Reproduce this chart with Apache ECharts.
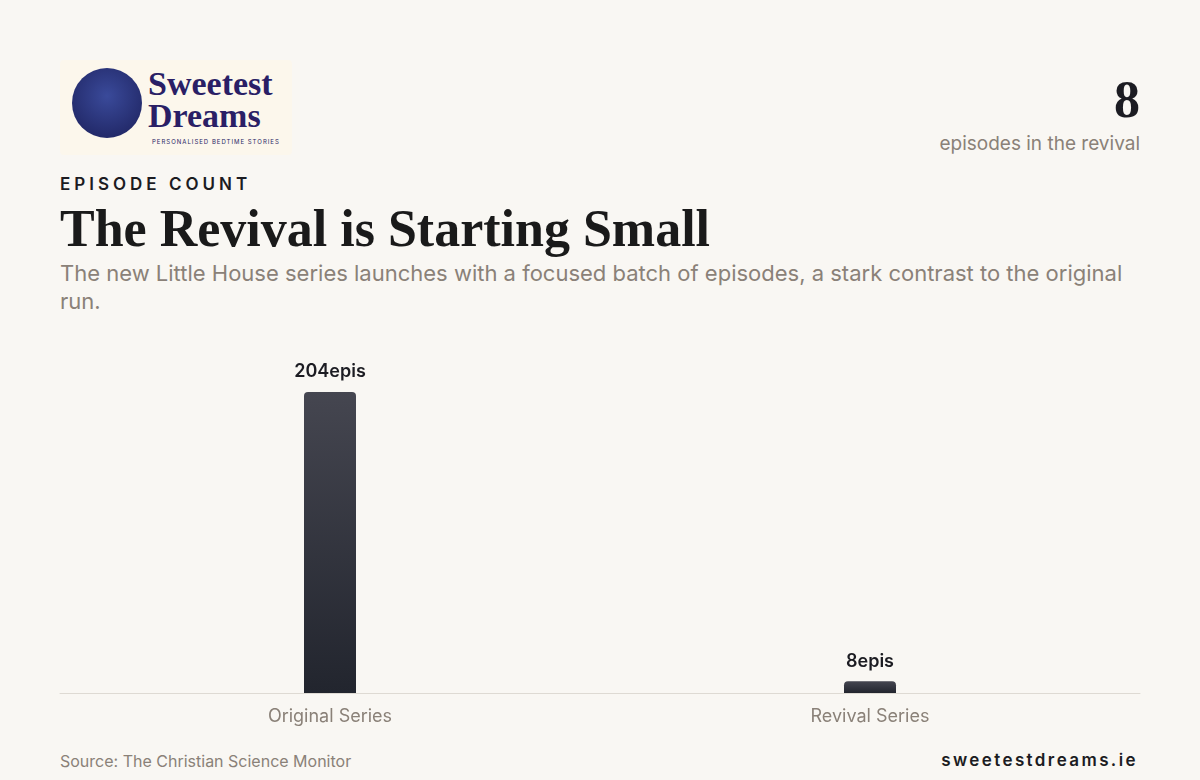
<!DOCTYPE html>
<html><head><meta charset="utf-8">
<script src="https://cdn.jsdelivr.net/npm/echarts@6/dist/echarts.min.js"></script>
<style>
body{margin:0;width:1200px;height:780px;background:#f9f7f3;font-family:Inter,"Noto Sans",sans-serif;position:relative;overflow:hidden}
.abs{position:absolute}
#logo{left:60px;top:60px;width:232px;height:95px;background:#fcf7ec;border-radius:4px}
#logo .c{position:absolute;left:12px;top:8px;width:70px;height:70px;border-radius:50%;background:radial-gradient(circle at 50% 40%,#3a4a9a,#1b1f5a)}
#logo .t{position:absolute;left:88px;top:8px;font-family:"Liberation Serif",serif;font-weight:bold;color:#2a1f66;font-size:34px;line-height:32px}
#logo .s{position:absolute;left:92px;top:78px;font-size:6px;letter-spacing:1px;color:#2a1f66}
#chart{left:0;top:0;width:1200px;height:780px}
</style></head><body>
<div id="logo" class="abs"><div class="c"></div><div class="t">Sweetest<br>Dreams</div><div class="s">PERSONALISED BEDTIME STORIES</div></div>
<div class="abs" style="right:60px;top:70px;font-family:'Liberation Serif',serif;font-weight:bold;font-size:52px;color:#1c1c22">8</div>
<div class="abs" style="right:60px;top:132px;font-size:19px;color:#8a8178">episodes in the revival</div>
<div class="abs" style="left:60px;top:174px;font-size:17px;letter-spacing:4px;font-weight:600;color:#1c1c22">EPISODE COUNT</div>
<div class="abs" style="left:60px;top:199px;font-family:'Liberation Serif',serif;font-weight:bold;font-size:52px;color:#1a1a1a">The Revival is Starting Small</div>
<div class="abs" style="left:60px;top:259px;width:1080px;font-size:22px;line-height:28px;color:#8a8178">The new Little House series launches with a focused batch of episodes, a stark contrast to the original run.</div>
<div class="abs" style="left:60px;top:751px;font-size:16px;color:#8a8178">Source: The Christian Science Monitor</div>
<div class="abs" style="right:62px;top:750px;font-size:17px;letter-spacing:2.4px;font-weight:600;color:#1c1c22">sweetestdreams.ie</div>
<div id="chart" class="abs"></div>
<script>
const categories=["Original Series","Revival Series"];
const episodes=[204,8];
const unit="epis";
const ch=echarts.init(document.getElementById('chart'));
ch.setOption({
 grid:{left:60,right:60,top:392,bottom:87},
 xAxis:{type:'category',data:categories,axisTick:{show:false},axisLine:{lineStyle:{color:'#dedad3'}},
   axisLabel:{color:'#8a8178',fontSize:18,margin:15,fontFamily:'Inter'}},
 yAxis:{type:'value',min:0,max:204,show:false,splitLine:{show:false}},
 series:[{type:'bar',data:episodes,barWidth:52,
   itemStyle:{borderRadius:[4,4,0,0],color:new echarts.graphic.LinearGradient(0,0,0,1,[{offset:0,color:'#454650'},{offset:1,color:'#22252e'}])},
   label:{show:true,position:'top',distance:11,formatter:p=>p.value+unit,color:'#1c1c22',fontSize:18,fontWeight:600,fontFamily:'Inter'}}]
});
</script></body></html>
